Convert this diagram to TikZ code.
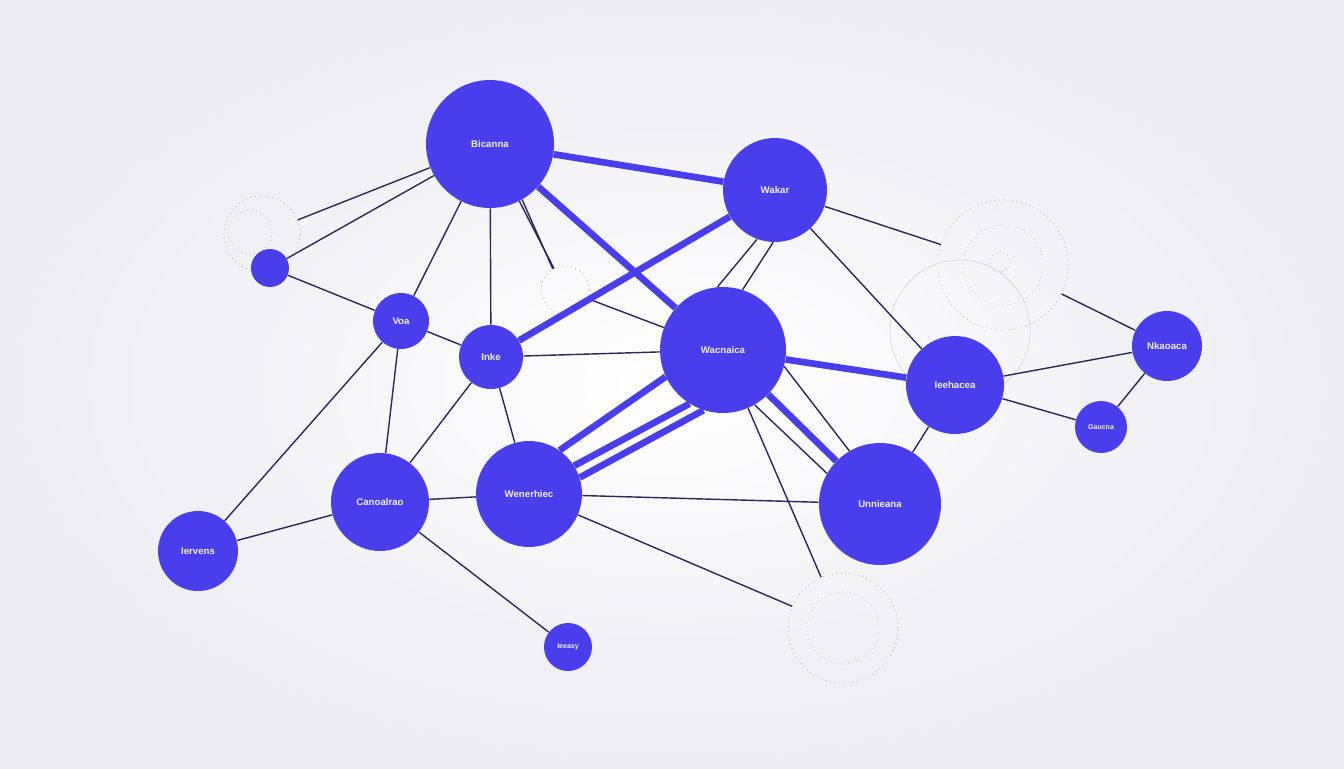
\documentclass[tikz,border=0pt]{standalone}
\usepackage{fontspec}
\setmainfont{Liberation Sans}
\definecolor{hubblue}{RGB}{72,62,236}
\definecolor{wire}{RGB}{42,40,92}
\definecolor{ringgray}{RGB}{176,176,200}
\definecolor{bgedge}{RGB}{236,236,242}
\begin{document}
\begin{tikzpicture}[x=0.02cm,y=-0.02cm,
  hub/.style={circle,fill=hubblue,inner sep=0pt,minimum size=#1*0.04cm,
    text=white!92!hubblue,font=\fontsize{5.5}{6}\selectfont\bfseries},
  ring/.style={circle,draw=ringgray,dotted,line width=0.5pt,inner sep=0pt,minimum size=#1*0.04cm},
  thin/.style={wire,line width=0.8pt},
  fat/.style={hubblue,line width=3.8pt}]
\useasboundingbox (0,0) rectangle (1344,768);
\shade[inner color=white,outer color=bgedge] (0,0) rectangle (1344,768);
% faint decoration
\node[ring=38] (d1) at (262,234) {};
\draw[ringgray,dotted] (250,232) circle (22);
\node[ring=65] (d2) at (1003,265) {};
\draw[ringgray,dotted] (1003,265) circle (40);
\draw[ringgray,dotted] (1000,262) circle (10);
\node[ring=55] (d3) at (843,628) {};
\draw[ringgray,dotted] (843,628) circle (36);
\node[ring=24] (d4) at (565,290) {};
\draw[ringgray!50,line width=0.4pt] (960,330) circle (70);
% hubs
\node[hub=64] (A) at (490,144) {Bicanna};
\node[hub=52] (B) at (775,190) {Wakar};
\node[hub=63] (C) at (723,350) {Wacnaica};
\node[hub=49] (D) at (955,385) {Ieehacea};
\node[hub=35] (E) at (1167,346) {Nkaoaca};
\node[hub=26] (F) at (1101,427) {\fontsize{4}{5}\selectfont Gaucna};
\node[hub=61] (G) at (880,504) {Unnieana};
\node[hub=53] (H) at (529,494) {Wenerhiec};
\node[hub=49] (I) at (380,502) {Canoalrao};
\node[hub=40] (J) at (198,551) {Iervens};
\node[hub=24] (K) at (568,647) {\fontsize{4}{5}\selectfont Ieeasy};
\node[hub=28] (L) at (401,321) {Voa};
\node[hub=32] (M) at (491,357) {Inke};
\node[hub=19] (N) at (270,268) {};
% wires
\foreach \a/\b in {A/d1,A/N,A/L,A/M,A/d4,N/L,L/M,L/I,L/J,M/C,M/H,M/I,
  B/d2,d2/E,B/D,d4/C,D/E,D/F,E/F,D/G,C/d3,H/G,H/I,I/J,I/K,H/d3}
  \draw[thin] (\a) -- (\b);
\draw[thin] (B.250) -- (C.95);
\draw[thin] (B.268) -- (C.72);
\draw[thin] (A.300) -- (d4.120);
\draw[thin] (C.345) -- (G.120);
\draw[thin] (C.300) -- (G.150);
\foreach \a/\b in {A/B,A/C,B/M,C/D,C/G}
  \draw[fat] (\a) -- (\b);
\draw[fat] (C.205) -- (H.55);
\draw[fat] (C.238) -- (H.32);
\draw[fat] (C.252) -- (H.18);
\end{tikzpicture}
\end{document}
